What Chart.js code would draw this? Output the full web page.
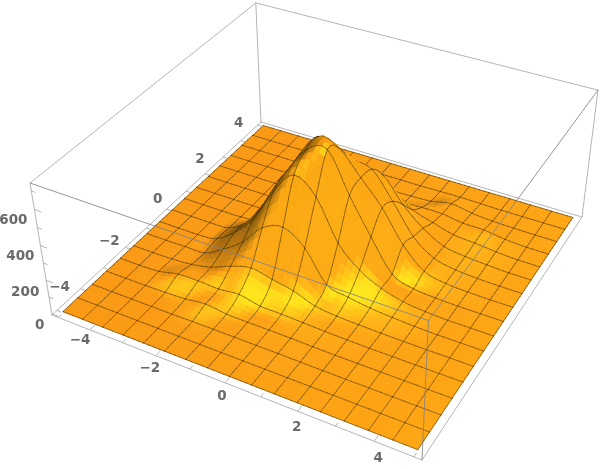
<!DOCTYPE html>
<html><head><meta charset="utf-8">
<style>html,body{margin:0;padding:0;background:#fff}#w{width:600px;height:469px}</style>
<script src="https://cdn.jsdelivr.net/npm/chart.js@4"></script></head>
<body><div id="w"><canvas id="c" width="600" height="469"></canvas></div>
<script>
const gridX=[-5,-4.375,-3.75,-3.125,-2.5,-1.875,-1.25,-0.625,0,0.625,1.25,1.875,2.5,3.125,3.75,4.375,5];
const gridY=gridX.slice();
const zRows=[
[0,0,0,0,0,0,0,0,0,0,0,0,0,0,0,0,0],
[0,0,0,0,0,0,0,0,0,0,0,0,0,0,0,0,0],
[0,0,0,0,0,2,2,2,2,2,1,0,0,0,0,0,0],
[0,0,0,3,8,22,8,5,5,4,2,0,0,0,0,0,0],
[0,0,6,32,35,30,42,17,15,10,5,2,0,0,0,0,0],
[0,0,3,12,38,87,120,95,70,25,10,5,2,0,0,0,0],
[0,0,2,5,70,155,280,325,245,70,40,20,10,3,0,0,0],
[0,0,0,15,100,225,420,550,465,240,120,55,20,6,0,0,0],
[0,0,0,8,85,250,455,620,660,440,240,60,15,4,0,0,0],
[0,0,0,2,30,200,430,630,600,470,335,157,40,10,2,0,0],
[0,0,0,0,10,80,250,480,470,450,300,130,40,12,3,0,0],
[0,0,0,0,2,20,80,220,340,350,210,105,35,15,6,0,0],
[0,0,0,0,0,3,15,60,130,180,105,65,30,20,8,0,0],
[0,0,0,0,0,0,3,10,15,35,45,45,27,25,8,0,0],
[0,0,0,0,0,0,0,2,4,6,12,35,15,5,2,0,0],
[0,0,0,0,0,0,0,0,0,0,2,4,2,0,0,0,0],
[0,0,0,0,0,0,0,0,0,0,0,0,0,0,0,0,0]];
const xTicks=[-4,-2,0,2,4];
const yTicks=[-4,-2,0,2,4];
const zTicks=[0,200,400,600];
const xMinor=[-5,-3,-1,1,3,5];
const yMinor=[-5,-3,-1,1,3,5];
const zMinor=[100,300,500,700];

/* camera */
const M=[[318.41,264.75,-24.08,52],[88.76,-166.94,-144.7,315],[-0.12226,0.21359,-0.0694,1]];
const Z0=8,ZR=750,XR=5.2;
const toBox=(x,y,z)=>[(x+XR)/(2*XR),(y+XR)/(2*XR),(z+Z0)/ZR];
function proj(x,y,z){const [u,v,w]=toBox(x,y,z);const d=M[2][0]*u+M[2][1]*v+M[2][2]*w+M[2][3];
 return {x:(M[0][0]*u+M[0][1]*v+M[0][2]*w+M[0][3])/d,y:(M[1][0]*u+M[1][1]*v+M[1][2]*w+M[1][3])/d};}
const N=gridX.length-1,STEP=gridX[1]-gridX[0];
const cl=(a,l,h)=>a<l?l:a>h?h:a;
const zAt=(i,j)=>zRows[cl(j,0,N)][cl(i,0,N)];
const cr=(p0,p1,p2,p3,t)=>0.5*(2*p1+(p2-p0)*t+(2*p0-5*p1+4*p2-p3)*t*t+(3*p1-p0-3*p2+p3)*t*t*t);
function surf(fi,fj){const i=Math.min(Math.floor(fi),N-1),j=Math.min(Math.floor(fj),N-1),s=fi-i,t=fj-j;const r=[];
 for(let m=-1;m<=2;m++)r.push(cr(zAt(i-1,j+m),zAt(i,j+m),zAt(i+1,j+m),zAt(i+2,j+m),s));
 return Math.max(0,cr(r[0],r[1],r[2],r[3],t));}
const gx=fi=>gridX[0]+fi*STEP, gy=fj=>gridY[0]+fj*STEP;
const pS=(fi,fj)=>proj(gx(fi),gy(fj),surf(fi,fj));
/* shading */
const nrm=v=>{const l=Math.hypot(v[0],v[1],v[2]);return v.map(a=>a/l)};
const NY=nrm([0.25,-0.5,0.95]);
const gauss=dd=>Math.exp(-dd/0.4);
const Y0=gauss(NY[0]*NY[0]+NY[1]*NY[1]+(1-NY[2])**2);
function shade(fi,fj){const e=0.08;
 const su=0.4*(surf(fi+e,fj)-surf(fi-e,fj))/(2*e)/ZR/(STEP/(2*XR));
 const sv=0.4*(surf(fi,fj+e)-surf(fi,fj-e))/(2*e)/ZR/(STEP/(2*XR));
 const n=nrm([-su,-sv,1]);
 const t=Math.max(0,-0.95*n[0]+0.3*n[1]-0.12);
 const b=cl(1-0.85*t,0.3,1);
 const dd=(n[0]-NY[0])**2+(n[1]-NY[1])**2+(n[2]-NY[2])**2;
 const y=Math.max(0,(gauss(dd)-Y0)/(1-Y0));
 const f=cl((1-n[2])*1.5,0,1);
 const uu=fi/N;
 const r=Math.round(255*Math.min(1,b*(0.98+0.02*uu+0.03*y)));
 const g=Math.round(255*Math.min(1,b*(0.6+0.05*uu+0.27*y+0.05*f)));
 const bl=Math.round(255*(b*(0.08+0.03*y)));
 return `rgb(${r},${g},${bl})`;}
const keyOf=(fi,fj)=>{const [u,v]=toBox(gx(fi),gy(fj),0);return M[2][0]*u+M[2][1]*v};
const SUB=4,items=[];
function flat(i,j){for(let a=i-1;a<=i+2;a++)for(let b=j-1;b<=j+2;b++)if(zAt(a,b)>0)return false;return true;}
const isn=[];
for(let i=0;i<N;i++){isn[i]=[];for(let j=0;j<N;j++){const n=flat(i,j)?2:SUB;isn[i][j]=n;const d=1/n;
 for(let a=0;a<n;a++)for(let b=0;b<n;b++){const i0=i+a*d,j0=j+b*d,i1=i0+d,j1=j0+d;const c=shade(i0+d/2,j0+d/2);
  items.push({key:keyOf(i0+d/2,j0+d/2),ds:{data:[pS(i0,j0),pS(i1,j0),pS(i1,j1),pS(i0,j1),pS(i0,j0)],borderColor:c,backgroundColor:c,borderWidth:0.7,fill:'shape',pointRadius:0}});}}}
const meshCol='rgba(40,28,0,0.75)';
const bias=(Math.abs(M[2][0])+Math.abs(M[2][1]))*(STEP/(2*XR));
for(let l=0;l<=N;l++)for(let c=0;c<N;c++){
 let n=Math.max(isn[Math.min(l,N-1)][c],isn[Math.max(l-1,0)][c]);let d=1/n;
 for(let a=0;a<n;a++){const t0=c+a*d,t1=t0+d;
  items.push({key:keyOf(l,t0+d/2)-bias*d*1.01,ds:{data:[pS(l,t0),pS(l,t1)],borderColor:meshCol,borderWidth:0.65,pointRadius:0,fill:false}});}
 n=Math.max(isn[c][Math.min(l,N-1)],isn[c][Math.max(l-1,0)]);d=1/n;
 for(let a=0;a<n;a++){const t0=c+a*d,t1=t0+d;
  items.push({key:keyOf(t0+d/2,l)-bias*d*1.01,ds:{data:[pS(t0,l),pS(t1,l)],borderColor:meshCol,borderWidth:0.65,pointRadius:0,fill:false}});}
}
items.sort((p,q)=>q.key-p.key);
/* box */
const xa=-XR,xb=XR,za=-Z0,zb=ZR-Z0;
const boxCol='#b4b4b4';
const edge=(a,b,w)=>({data:[proj(...a),proj(...b)],borderColor:boxCol,borderWidth:w||1,pointRadius:0,fill:false});
const back=[[[xa,xa,za],[xb,xa,za]],[[xb,xa,za],[xb,xb,za]],[[xb,xb,za],[xa,xb,za]],[[xa,xb,za],[xa,xa,za]],
 [[xa,xa,za],[xa,xa,zb]],[[xa,xb,za],[xa,xb,zb]],[[xb,xb,za],[xb,xb,zb]],[[xa,xa,zb],[xa,xb,zb]],[[xa,xb,zb],[xb,xb,zb]]].map(e=>edge(e[0],e[1]));
const front=[[[xa,xa,zb],[xb,xa,zb]],[[xb,xa,zb],[xb,xb,zb]],[[xb,xa,za],[xb,xa,zb]]].map(e=>({...edge(e[0],e[1]),borderColor:'rgba(130,130,130,0.85)'}));
const tickCol='#b4b4b4';
const tk=(a,b)=>({data:[proj(...a),proj(...b)],borderColor:tickCol,borderWidth:1,pointRadius:0,fill:false});
const ticks=[];
xTicks.forEach(t=>ticks.push(tk([t,xa,za],[t,xa+0.2,za])));xMinor.forEach(t=>ticks.push(tk([t,xa,za],[t,xa+0.12,za])));
yTicks.forEach(t=>ticks.push(tk([xa,t,za],[xa+0.2,t,za])));yMinor.forEach(t=>ticks.push(tk([xa,t,za],[xa+0.12,t,za])));
zTicks.forEach(t=>ticks.push(tk([xa,xa,t],[xa+0.2,xa,t])));zMinor.forEach(t=>ticks.push(tk([xa,xa,t],[xa+0.12,xa,t])));
const datasets=[...front,...items.map(o=>o.ds).reverse(),...ticks,...back];
const xOff=[[-10,11],[-6,12.5],[-3,13.5],[-1,16],[4,17]];
const yOff=[[-21,-1],[-16,-6],[-9,-10],[-5,-14],[-2,-17]];
const zOff=[[-12,12],[-21,12],[-20,11],[-21,11]];
const labelPlugin={id:'axisLabels',afterDraw(ch){const c=ch.ctx,sx=ch.scales.x,sy=ch.scales.y;c.save();
 c.font='bold 13.5px "DejaVu Sans"';c.fillStyle='#6a6a6a';c.textAlign='center';c.textBaseline='middle';
 const put=(v,p,o)=>c.fillText(String(v).replace('-','\u2212'),sx.getPixelForValue(p.x)+o[0],sy.getPixelForValue(p.y)+o[1]);
 xTicks.forEach((t,k)=>put(t,proj(t,xa,za),xOff[k]));
 yTicks.forEach((t,k)=>put(t,proj(xa,t,za),yOff[k]));
 zTicks.forEach((t,k)=>put(t,proj(xa,xa,t),zOff[k]));
 c.restore();}};
new Chart(document.getElementById('c'),{type:'line',data:{datasets},plugins:[labelPlugin],options:{
 responsive:false,animation:false,events:[],parsing:false,normalized:true,
 layout:{padding:0},
 elements:{line:{tension:0,borderCapStyle:'round',borderJoinStyle:'round'}},
 plugins:{legend:{display:false},tooltip:{enabled:false},title:{display:false}},
 scales:{x:{type:'linear',min:0,max:600,display:false},y:{type:'linear',min:0,max:469,reverse:true,display:false}}}});
</script></body></html>
